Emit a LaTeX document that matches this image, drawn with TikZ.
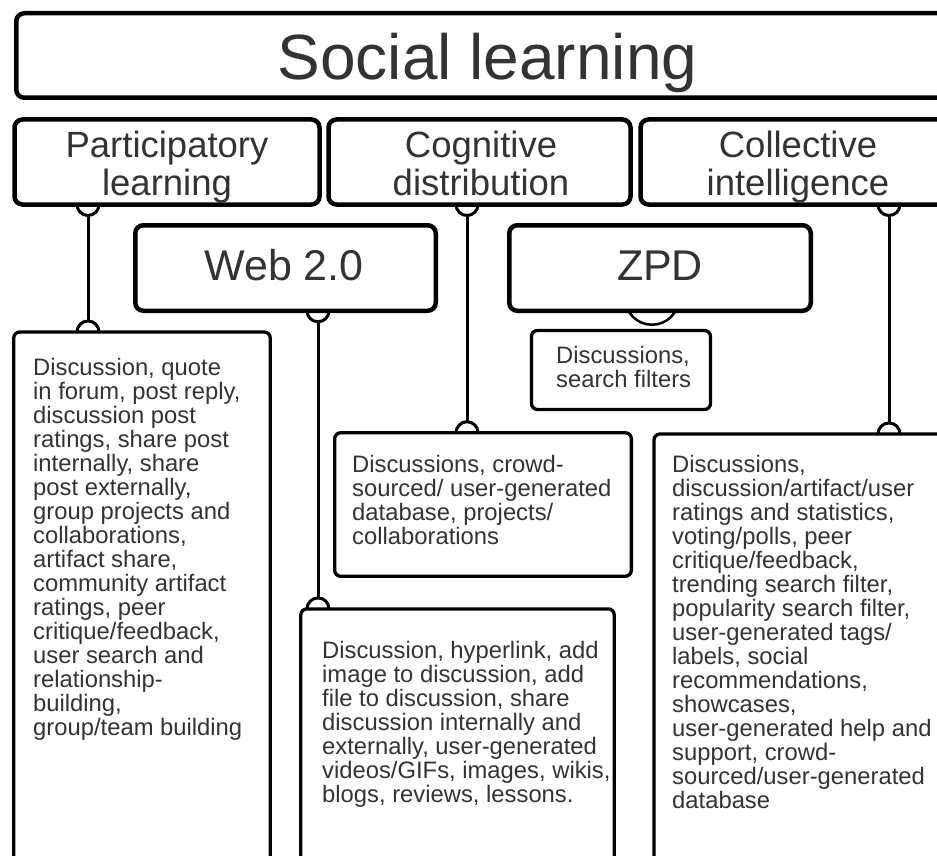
\documentclass[tikz,border=0pt]{standalone}
\usepackage{fontspec}
\setmainfont{Liberation Sans}
\definecolor{txt}{HTML}{333333}
\pgfdeclarelayer{bg}
\pgfdeclarelayer{paper}
\pgfsetlayers{paper,bg,main}
\begin{document}
\begin{tikzpicture}[x=1pt,y=-1pt,
  bigbox/.style={rectangle, draw=black, line width=4.5pt, rounded corners=8pt, fill=white, outer sep=0pt, inner sep=0pt},
  smallbox/.style={rectangle, draw=black, line width=3.3pt, rounded corners=6pt, fill=white, outer sep=0pt, inner sep=0pt},
  conn/.style={draw=black, line width=3pt},
  ring/.style={draw=black, line width=3pt, fill=white},
  headtext/.style={text=txt, font=\fontsize{36.5}{38}\selectfont, align=center, anchor=base, inner sep=0pt},
  midtext/.style={text=txt, font=\fontsize{43}{46}\selectfont, anchor=base, inner sep=0pt},
  bodytext/.style={text=txt, font=\fontsize{23.8}{24}\selectfont, align=left, anchor=base west, inner sep=0pt},
]
\useasboundingbox (0,0) rectangle (937,856);
\begin{pgfonlayer}{paper}
  \fill[white] (0,0) rectangle (937,856);
\end{pgfonlayer}
\clip (0,0) rectangle (937,856);

% title
\node[bigbox, minimum width=942.5pt, minimum height=84.5pt] (title) at (487.5,55.5) {};
\node[text=txt, font=\fontsize{64}{70}\selectfont, anchor=base, inner sep=0pt] (titletext) at (487.5,80) {Social learning};

% headers (anchor base = baseline of the last line)
\node[bigbox, minimum width=305pt, minimum height=85pt] (pl) at (167,162) {};
\node[headtext] (pltext) at (167,195) {Participatory\\learning};
\node[bigbox, minimum width=302pt, minimum height=85pt] (cd) at (479.5,162) {};
\node[headtext] (cdtext) at (481,195) {Cognitive\\distribution};
\node[bigbox, minimum width=315pt, minimum height=85pt] (ci) at (798,162) {};
\node[headtext] (citext) at (798,195) {Collective\\intelligence};

% middle
\node[bigbox, minimum width=300.5pt, minimum height=85.5pt] (web) at (285.5,268) {};
\node[midtext] (webtext) at (284,280) {Web 2.0};
\node[bigbox, minimum width=301.5pt, minimum height=85.5pt] (zpd) at (660,268) {};
\node[midtext] (zpdtext) at (660,280) {ZPD};

% small zpd box
\node[smallbox, minimum width=179pt, minimum height=79pt] (zpdbox) at (621,370) {};
\node[bodytext] (zpdboxtext) at (556,387) {Discussions,\\search filters};

% bottom boxes
\node[smallbox, minimum width=256.5pt, minimum height=568pt] (leftbox) at (142,616) {};
\node[bodytext] (lefttext) at (33,735) {Discussion, quote\\in forum, post reply,\\discussion post\\ratings, share post\\internally, share\\post externally,\\group projects and\\collaborations,\\artifact share,\\community artifact\\ratings, peer\\critique/feedback,\\user search and\\relationship-\\building,\\group/team building};

\node[smallbox, minimum width=296.7pt, minimum height=143.5pt] (cogbox) at (483,504.5) {};
\node[bodytext] (cogtext) at (352,544) {Discussions, crowd-\\sourced/ user-generated\\database, projects/\\collaborations};

\node[smallbox, minimum width=313.5pt, minimum height=291pt] (webbox) at (457.5,754.4) {};
\node[bodytext] (webboxtext) at (322,802) {Discussion, hyperlink, add\\image to discussion, add\\file to discussion, share\\discussion internally and\\externally, user-generated\\videos/GIFs, images, wikis,\\blogs, reviews, lessons.};

\node[smallbox, minimum width=336pt, minimum height=466pt] (collbox) at (822,667) {};
\node[bodytext] (colltext) at (672,808) {Discussions,\\discussion/artifact/user\\ratings and statistics,\\voting/polls, peer\\critique/feedback,\\trending search filter,\\popularity search filter,\\user-generated tags/\\labels, social\\recommendations,\\showcases,\\user-generated help and\\support, crowd-\\sourced/user-generated\\database};

% connectors
\coordinate (xpl) at (88,0);
\coordinate (xweb) at (318,0);
\coordinate (xcd) at (467,0);
\coordinate (xci) at (889,0);
\begin{pgfonlayer}{bg}
  \draw[conn] (pl.south -| xpl) -- (leftbox.north -| xpl);
  \draw[ring] (pl.south -| xpl) circle[radius=11];
  \draw[ring] (leftbox.north -| xpl) circle[radius=11];

  \draw[conn] (web.south -| xweb) -- (webbox.north -| xweb);
  \draw[ring] (web.south -| xweb) circle[radius=11];
  \draw[ring] (webbox.north -| xweb) circle[radius=11];

  \draw[conn] (cd.south -| xcd) -- (cogbox.north -| xcd);
  \draw[ring] (cd.south -| xcd) circle[radius=11];
  \draw[ring] (cogbox.north -| xcd) circle[radius=11];

  \draw[conn] (ci.south -| xci) -- (collbox.north -| xci);
  \draw[ring] (ci.south -| xci) circle[radius=11];
  \draw[ring] (collbox.north -| xci) circle[radius=11];

  \draw[ring, line width=2.5pt] ([xshift=-8pt,yshift=13pt]zpd.south) circle[radius=27];
\end{pgfonlayer}
\end{tikzpicture}
\end{document}
